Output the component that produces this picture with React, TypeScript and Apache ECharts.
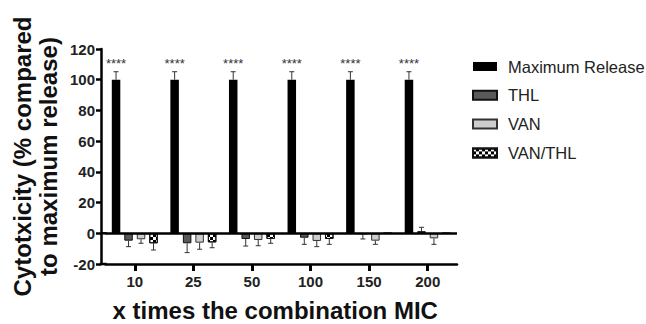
import React, { useEffect, useRef } from "react";
import * as echarts from "echarts";

const categories = ["10", "25", "50", "100", "150", "200"];
const seriesNames = ["Maximum Release", "THL", "VAN", "VAN/THL"];
const maxRelease = [100, 100, 100, 100, 100, 100];
const maxReleaseErr = [5.2, 5.2, 5.2, 5.2, 5.2, 5.2];
const thl = [-4.8, -6.5, -3.7, -2.9, -0.5, 1.4];
const thlErr = [3.9, 6.1, 4.6, 4.3, 3.2, 2.5];
const van = [-3.9, -6.1, -4.4, -5.0, -4.8, -3.3];
const vanErr = [2.6, 4.3, 3.7, 3.7, 2.4, 3.9];
const vanThl = [-6.5, -5.9, -3.7, -3.7, 0, 0];
const vanThlErr = [4.4, 3.5, 2.8, 3.5, 0, 0];
const yTicks = [-20, 0, 20, 40, 60, 80, 100, 120];

const FONT = "'Liberation Sans', Arial, Helvetica, sans-serif";
const BAR_W = 8.5;
const BAR_STEP = 12.5;
const Y_OFFSET = 4.5;

export default function App() {
  const ref = useRef<HTMLDivElement>(null);
  useEffect(() => {
    if (!ref.current) return;
    const chart = echarts.init(ref.current, null, { renderer: "svg" });
    const values = [maxRelease, thl, van, vanThl];
    const errs = [maxReleaseErr, thlErr, vanErr, vanThlErr];
    const styles = [
      { color: "#000000", borderColor: "#000000", borderWidth: 0 },
      { color: "#595959", borderColor: "#111111", borderWidth: 1 },
      { color: "#cdcdcd", borderColor: "#333333", borderWidth: 1 },
      {
        color: "#ffffff",
        borderColor: "#111111",
        borderWidth: 1,
        decal: {
          symbol: "rect",
          symbolSize: 1,
          color: "#000000",
          dashArrayX: [[3, 3], [0, 3, 3, 0]],
          dashArrayY: [3, 0],
          rotation: 0,
        },
      },
    ];
    const barSeries: any[] = seriesNames.map((name, k) => ({
      name,
      type: "bar",
      barWidth: BAR_W,
      barGap: "47%",
      data: values[k],
      itemStyle: styles[k],
      label:
        k === 0
          ? {
              show: true,
              position: "top",
              distance: 10,
              formatter: "****",
              fontSize: 13,
              color: "#333",
              fontFamily: FONT,
            }
          : { show: false },
      markLine:
        k === 0
          ? {
              silent: true,
              symbol: ["none", "none"],
              label: { show: false },
              lineStyle: { color: "#000", width: 2.5, type: "solid" },
              data: [{ yAxis: 0 }],
            }
          : undefined,
      z: 2,
    }));
    const errSeries: any[] = seriesNames.map((name, k) => ({
      name: "err-" + name,
      type: "custom",
      data: values[k].map((v, i) => [i, v, errs[k][i]]),
      z: 3,
      renderItem: (params: any, api: any) => {
        const x = api.value(0);
        const v = api.value(1);
        const e = api.value(2);
        if (!e) return null;
        const dir = v >= 0 ? 1 : -1;
        const p0 = api.coord([x, v]);
        const p1 = api.coord([x, v + dir * e]);
        const cx = p0[0] + (k - 1.5) * BAR_STEP;
        const st = { stroke: "#333", lineWidth: 1 };
        return {
          type: "group",
          children: [
            { type: "line", shape: { x1: cx, y1: p0[1], x2: cx, y2: p1[1] }, style: st },
            { type: "line", shape: { x1: cx - 2.5, y1: p1[1], x2: cx + 2.5, y2: p1[1] }, style: st },
          ],
        };
      },
    }));
    const gridLeft = 105.5;
    chart.setOption({
      animation: false,
      grid: {
        left: gridLeft,
        top: 49,
        width: 351.5,
        height: 215,
        containLabel: false,
        outerBoundsMode: "none",
      },
      legend: {
        data: seriesNames,
        orient: "vertical",
        left: 467,
        top: 53,
        icon: "rect",
        itemWidth: 24,
        itemHeight: 9,
        itemGap: 11.8,
        textStyle: { fontSize: 16.5, color: "#222", fontFamily: FONT, padding: [0, 0, 0, 6] },
        selectedMode: false,
      },
      xAxis: {
        type: "category",
        data: categories,
        name: "x times the combination MIC",
        nameLocation: "middle",
        nameGap: 35,
        nameMoveOverlap: false,
        nameTextStyle: {
          fontSize: 24,
          fontWeight: "bold",
          color: "#111",
          fontFamily: FONT,
          lineHeight: 22,
          padding: [0, 12, 0, 0],
        },
        axisLine: { onZero: false, lineStyle: { color: "#000", width: 2.5 } },
        axisTick: { show: true, alignWithLabel: true, length: 7, lineStyle: { color: "#000", width: 3 } },
        axisLabel: {
          fontSize: 15,
          fontWeight: "bold",
          color: "#222",
          fontFamily: FONT,
          margin: 10,
        },
      },
      yAxis: {
        type: "value",
        min: yTicks[0],
        max: yTicks[yTicks.length - 1],
        interval: 20,
        offset: Y_OFFSET,
        name: "Cytotxicity (% compared\nto maximum release)",
        nameLocation: "middle",
        nameRotate: 90,
        nameGap: 39.5,
        nameMoveOverlap: false,
        nameTextStyle: { fontSize: 24, fontWeight: "bold", color: "#111", fontFamily: FONT, lineHeight: 26 },
        splitLine: { show: false },
        axisLine: { show: true, onZero: false, lineStyle: { color: "#000", width: 2.5 } },
        axisTick: { show: true, length: 5, lineStyle: { color: "#000", width: 2.5 } },
        axisLabel: { fontSize: 15, fontWeight: "bold", color: "#222", fontFamily: FONT, margin: 6 },
      },
      series: [...barSeries, ...errSeries],
    });
    // join the offset y axis to the x axis line and the zero line
    const yZero = chart.convertToPixel({ yAxisIndex: 0 }, 0) as number;
    const yBottom = chart.convertToPixel({ yAxisIndex: 0 }, yTicks[0]) as number;
    const x0 = gridLeft - Y_OFFSET;
    chart.setOption({
      graphic: [
        { type: "line", silent: true, z: 10, shape: { x1: x0, y1: yZero, x2: gridLeft + 1, y2: yZero }, style: { stroke: "#000", lineWidth: 2.5 } },
        { type: "line", silent: true, z: 10, shape: { x1: x0 - 1.2, y1: yBottom, x2: gridLeft + 1, y2: yBottom }, style: { stroke: "#000", lineWidth: 2.5 } },
      ],
    });
    return () => chart.dispose();
  }, []);
  return (
    <div
      ref={ref}
      style={{ position: "fixed", left: 0, top: 0, width: 646, height: 324, background: "#fff" }}
    />
  );
}
